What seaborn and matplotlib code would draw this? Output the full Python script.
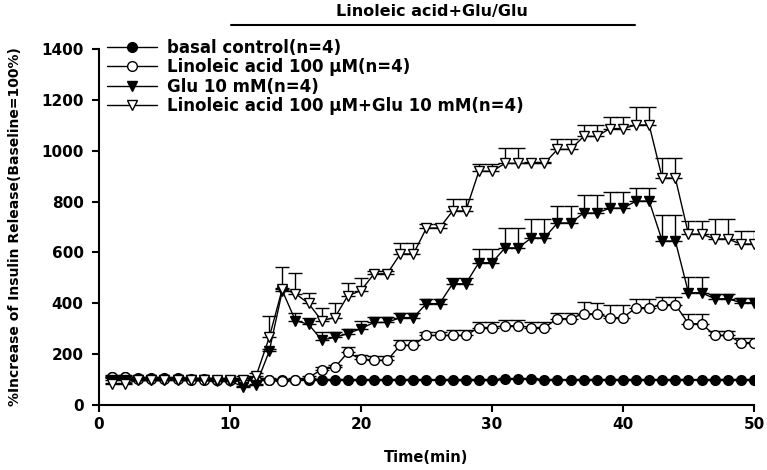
import numpy as np
import pandas as pd
import seaborn as sns
import matplotlib
matplotlib.use('Agg')
import matplotlib.pyplot as plt

# time points (min)
time = list(range(1, 51))

labels = ['basal control(n=4)',
          'Linoleic acid 100 \u03bcM(n=4)',
          'Glu 10 mM(n=4)',
          'Linoleic acid 100 \u03bcM+Glu 10 mM(n=4)']

basal = [110, 110, 105, 105, 105, 105, 102, 102, 100, 100,
         100, 100, 100, 100, 100, 100, 100, 98, 97, 97,
         98, 98, 98, 98, 98, 98, 97, 97, 97, 97,
         103, 103, 103, 100, 100, 100, 100, 100, 100, 100,
         100, 100, 100, 100, 100, 100, 100, 98, 98, 98]
basal_err = [4] * 50

la = [110, 110, 103, 103, 103, 103, 100, 100, 100, 100,
      100, 100, 100, 95, 100, 108, 140, 148, 207, 180,
      176, 176, 235, 235, 274, 274, 274, 274, 305, 305,
      312, 312, 305, 305, 340, 340, 360, 358, 344, 344,
      383, 383, 395, 395, 320, 320, 274, 274, 246, 246]
la_err = [8, 8, 8, 8, 8, 8, 8, 8, 8, 8,
          8, 8, 8, 5, 5, 5, 10, 10, 22, 18,
          18, 18, 20, 20, 14, 14, 20, 20, 22, 22,
          22, 22, 22, 22, 22, 22, 45, 45, 50, 50,
          35, 35, 28, 28, 40, 40, 18, 18, 16, 16]

glu = [100, 100, 100, 100, 100, 100, 97, 97, 95, 95,
       72, 80, 212, 450, 332, 318, 256, 266, 281, 301,
       325, 325, 344, 344, 399, 399, 477, 477, 560, 560,
       618, 618, 657, 657, 716, 716, 755, 755, 774, 774,
       802, 802, 645, 645, 442, 442, 418, 418, 403, 403]
glu_err = [5, 5, 5, 5, 5, 5, 5, 5, 5, 5,
           5, 5, 10, 10, 32, 26, 30, 20, 20, 30,
           20, 20, 20, 20, 20, 20, 24, 24, 55, 55,
           78, 78, 74, 74, 66, 66, 70, 70, 63, 63,
           51, 51, 102, 102, 60, 60, 20, 20, 19, 19]

la_glu = [82, 82, 100, 100, 100, 100, 100, 100, 100, 100,
          100, 115, 266, 458, 438, 400, 332, 344, 430, 450,
          516, 516, 594, 594, 696, 696, 763, 763, 919, 919,
          950, 950, 950, 950, 1005, 1005, 1056, 1056, 1087, 1087,
          1101, 1101, 892, 892, 672, 672, 653, 653, 633, 633]
la_glu_err = [5, 5, 5, 5, 5, 5, 5, 5, 5, 5,
              15, 12, 86, 85, 82, 42, 51, 59, 51, 51,
              12, 12, 44, 44, 15, 15, 46, 46, 27, 27,
              59, 59, 5, 5, 39, 39, 44, 44, 47, 47,
              72, 72, 78, 78, 51, 51, 78, 78, 51, 51]

series = [basal, la, glu, la_glu]
errors = [basal_err, la_err, glu_err, la_glu_err]
markers = ['o', 'o', 'v', 'v']
faces = ['black', 'white', 'black', 'white']

sns.set_style('ticks', {'axes.edgecolor': 'black', 'text.color': 'black',
                        'xtick.color': 'black', 'ytick.color': 'black',
                        'axes.labelcolor': 'black'})
plt.rcParams['font.family'] = ['DejaVu Sans']
plt.rcParams['font.weight'] = 'bold'

fig = plt.figure(figsize=(7.67, 4.70), dpi=100)
ax = fig.add_axes([0.129, 0.138, 0.854, 0.758])

for vals, err, m, fc, lab in zip(series, errors, markers, faces, labels):
    ax.errorbar(time, vals, yerr=[np.zeros(len(err)), err], fmt='none',
                ecolor='black', elinewidth=1, capsize=5, capthick=1)
    sns.lineplot(x=time, y=vals, ax=ax, color='black', linewidth=1,
                 marker=m, markersize=7, markerfacecolor=fc,
                 markeredgecolor='black', markeredgewidth=1, label=lab)

ax.set_xlim(0, 50)
ax.set_ylim(0, 1400)
ax.set_xticks(range(0, 51, 10))
ax.set_yticks(range(0, 1401, 200))
ax.tick_params(labelsize=11, width=1.5, length=5, direction='out',
               colors='black')
ax.tick_params(axis='y', pad=6)
for lbl in ax.get_xticklabels() + ax.get_yticklabels():
    lbl.set_fontweight('bold')
for s in ['left', 'bottom']:
    ax.spines[s].set_linewidth(1.5)
sns.despine(ax=ax)

ax.set_xlabel('Time(min)', fontsize=10.5, fontweight='bold', labelpad=13)
ax.set_ylabel('%Increase of Insulin Release(Baseline=100%)', fontsize=10,
              fontweight='bold', labelpad=14)

# treatment bar on top
ax.plot([10.1, 40.9], [1494, 1494], color='black', lw=1.5, clip_on=False)
ax.text(25.4, 1548, 'Linoleic acid+Glu/Glu', ha='center', va='center',
        fontsize=11.5, fontweight='bold')

leg = ax.legend(loc='upper left', bbox_to_anchor=(0.012, 1.028), frameon=False,
                handlelength=3.0, handletextpad=0.6, labelspacing=0.08,
                borderpad=0, borderaxespad=0, prop={'size': 12, 'weight': 'bold'})

fig.savefig('out.png', dpi=100)
